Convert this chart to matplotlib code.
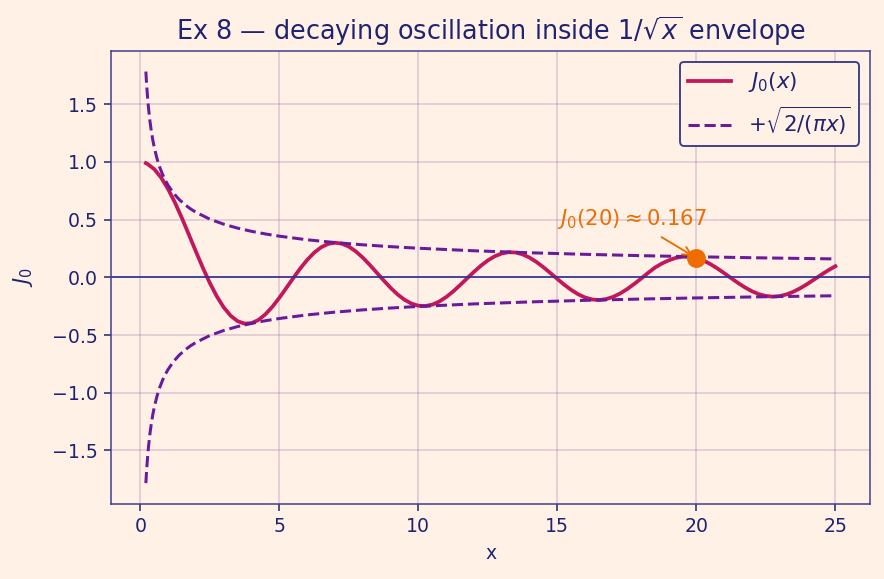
import matplotlib
matplotlib.use("Agg")
import matplotlib.pyplot as plt

# J0 values, every 0.25 along x
x_j = [0.2, 0.25, 0.5, 0.75, 1.0, 1.25, 1.5, 1.75, 2.0, 2.25, 2.5, 2.75, 3.0, 3.25,
       3.5, 3.75, 4.0, 4.25, 4.5, 4.75, 5.0, 5.25, 5.5, 5.75, 6.0, 6.25, 6.5, 6.75,
       7.0, 7.25, 7.5, 7.75, 8.0, 8.25, 8.5, 8.75, 9.0, 9.25, 9.5, 9.75, 10.0,
       10.25, 10.5, 10.75, 11.0, 11.25, 11.5, 11.75, 12.0, 12.25, 12.5, 12.75,
       13.0, 13.25, 13.5, 13.75, 14.0, 14.25, 14.5, 14.75, 15.0, 15.25, 15.5,
       15.75, 16.0, 16.25, 16.5, 16.75, 17.0, 17.25, 17.5, 17.75, 18.0, 18.25,
       18.5, 18.75, 19.0, 19.25, 19.5, 19.75, 20.0, 20.25, 20.5, 20.75, 21.0,
       21.25, 21.5, 21.75, 22.0, 22.25, 22.5, 22.75, 23.0, 23.25, 23.5, 23.75,
       24.0, 24.25, 24.5, 24.75, 25.0]
j0 = [0.9900, 0.9844, 0.9385, 0.8642, 0.7652, 0.6459, 0.5118, 0.3690, 0.2239,
      0.0827, -0.0484, -0.1641, -0.2601, -0.3327, -0.3801, -0.4012, -0.3971,
      -0.3695, -0.3205, -0.2552, -0.1776, -0.0930, -0.0068, 0.0759, 0.1506,
      0.2130, 0.2601, 0.2893, 0.3001, 0.2920, 0.2663, 0.2252, 0.1717, 0.1091,
      0.0419, -0.0259, -0.0903, -0.1473, -0.1939, -0.2272, -0.2459, -0.2489,
      -0.2366, -0.2101, -0.1712, -0.1227, -0.0677, -0.0097, 0.0477, 0.1009,
      0.1469, 0.1828, 0.2069, 0.2178, 0.2150, 0.1991, 0.1711, 0.1331, 0.0875,
      0.0375, -0.0142, -0.0641, -0.1092, -0.1470, -0.1749, -0.1917, -0.1965,
      -0.1890, -0.1699, -0.1410, -0.1036, -0.0601, -0.0134, 0.0361, 0.0828,
      0.1187, 0.1466, 0.1681, 0.1788, 0.1785, 0.1670, 0.1462, 0.1154, 0.0780,
      0.0366, -0.0066, -0.0489, -0.0878, -0.1208, -0.1459, -0.1616, -0.1672,
      -0.1624, -0.1477, -0.1237, -0.0924, -0.0562, -0.0165, 0.0236, 0.0622,
      0.0963]

# upper envelope (lower one is its mirror)
x_env = [0.2, 0.22, 0.25, 0.28, 0.3, 0.35, 0.4, 0.45, 0.5, 0.6, 0.7, 0.8, 0.9,
         1.0, 1.2, 1.4, 1.6, 1.8, 2.0, 2.5, 3.0, 3.5, 4.0, 4.5, 5.0, 6.0, 7.0,
         8.0, 9.0, 10.0, 12.0, 14.0, 16.0, 18.0, 20.0, 22.0, 25.0]
env = [1.7841, 1.7011, 1.5958, 1.5079, 1.4567, 1.3487, 1.2616, 1.1894, 1.1284,
       1.0301, 0.9537, 0.8921, 0.8410, 0.7979, 0.7284, 0.6743, 0.6308, 0.5947,
       0.5642, 0.5046, 0.4607, 0.4265, 0.3989, 0.3761, 0.3568, 0.3257, 0.3016,
       0.2821, 0.2660, 0.2523, 0.2303, 0.2132, 0.1995, 0.1881, 0.1784, 0.1701,
       0.1596]

mark_x, mark_y = 20, 0.167

bg = "#fff1e6"
navy = "#1f2370"
plt.rcParams.update({
    "text.color": navy, "axes.labelcolor": navy,
    "xtick.color": navy, "ytick.color": navy,
    "axes.edgecolor": "#3a3d8c",
})

fig, ax = plt.subplots(figsize=(6.5, 579 / 136), dpi=136)
fig.patch.set_facecolor(bg)
ax.set_facecolor(bg)

ax.plot(x_j, j0, color="#c2185b", lw=2, label="$J_0(x)$")
ax.plot(x_env, env, color="#6a1b9a", lw=1.6, ls="--", label=r"$+\sqrt{2/(\pi x)}$")
ax.plot(x_env, [-v for v in env], color="#6a1b9a", lw=1.6, ls="--")
ax.axhline(0, color="#2e3192", lw=0.9)

ax.plot([mark_x], [mark_y], "o", color="#ef6c00", ms=9, zorder=5)
ax.annotate(r"$J_0(20)\approx0.167$", xy=(mark_x, mark_y), xytext=(15.0, 0.45),
            color="#ef6c00", fontsize=11.2,
            arrowprops=dict(arrowstyle="->", color="#ef6c00", lw=1))

ax.grid(True, color="#8e5fa8", alpha=0.3, lw=0.8)
ax.set_title(r"Ex 8 — decaying oscillation inside $1/\sqrt{x}$ envelope",
             fontsize=13.5, color=navy)
ax.set_xlabel("x")
ax.set_ylabel("$J_0$", fontsize=11, labelpad=9)
leg = ax.legend(loc="upper right", facecolor=bg, edgecolor="#3a3d8c", framealpha=1,
                fontsize=11.3)
for t in leg.get_texts():
    t.set_color(navy)

fig.subplots_adjust(left=0.126, right=0.984, top=0.912, bottom=0.13)
fig.savefig("out.png", dpi=136, facecolor=bg)
